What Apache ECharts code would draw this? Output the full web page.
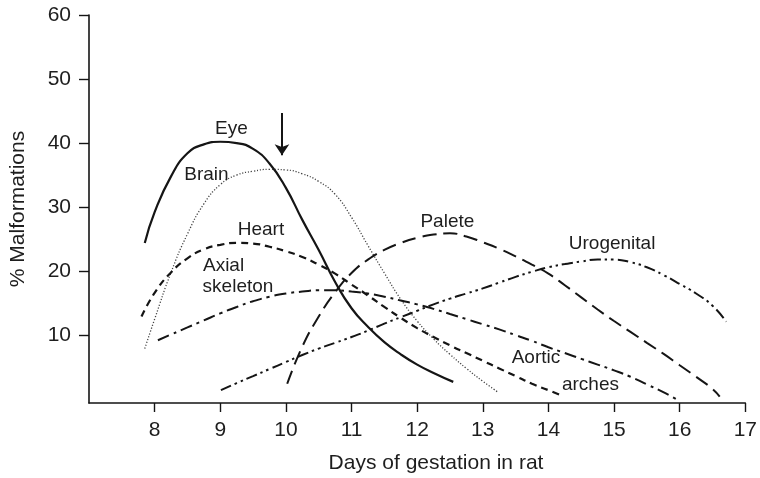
<!DOCTYPE html>
<html>
<head>
<meta charset="utf-8">
<script src="https://cdn.jsdelivr.net/npm/echarts@6/dist/echarts.min.js"></script>
<style>
  html, body { margin: 0; padding: 0; background: #fff; }
  #chart { width: 760px; height: 478px; }
</style>
</head>
<body>
<div id="chart"></div>
<script>
// Susceptibility curves: % malformations by day of gestation in the rat
const xTicks = [8, 9, 10, 11, 12, 13, 14, 15, 16, 17];
const yTicks = [10, 20, 30, 40, 50, 60];

const eye = [[7.85,24.4],[8.0,29.2],[8.25,34.8],[8.5,38.4],[8.75,39.8],[9.0,40.2],[9.25,40.0],[9.5,39.1],[9.75,36.8],[10.0,33.0],[10.25,28.0],[10.5,23.3],[10.75,18.3],[11.0,14.2],[11.25,11.3],[11.5,8.9],[11.75,7.0],[12.0,5.4],[12.25,4.1],[12.55,2.7]];
const brain = [[7.85,7.9],[8.0,12.5],[8.25,19.8],[8.5,25.8],[8.75,30.5],[9.0,33.5],[9.25,35.0],[9.5,35.6],[9.75,35.9],[10.0,35.8],[10.25,35.2],[10.5,34.0],[10.75,32.0],[11.0,28.4],[11.25,24.0],[11.5,19.7],[11.75,15.6],[12.0,12.2],[12.25,9.4],[12.5,7.0],[12.75,4.8],[13.0,2.8],[13.23,1.1]];
const heart = [[7.8,12.9],[8.0,16.6],[8.25,19.8],[8.5,22.0],[8.75,23.4],[9.0,24.1],[9.25,24.4],[9.5,24.3],[9.75,23.8],[10.0,23.1],[10.25,22.2],[10.5,21.0],[10.75,19.6],[11.0,17.9],[11.25,16.2],[11.5,14.4],[11.75,12.7],[12.0,11.1],[12.25,9.7],[12.5,8.4],[12.75,7.2],[13.0,6.0],[13.25,4.8],[13.5,3.6],[13.75,2.4],[14.0,1.4],[14.19,0.6]];
const axialSkeleton = [[8.05,9.2],[8.25,10.1],[8.5,11.2],[8.75,12.3],[9.0,13.4],[9.25,14.4],[9.5,15.3],[9.75,16.0],[10.0,16.5],[10.25,16.8],[10.5,17.0],[10.75,17.0],[11.0,16.8],[11.25,16.5],[11.5,16.0],[11.75,15.4],[12.0,14.8],[12.25,14.1],[12.5,13.3],[12.75,12.5],[13.0,11.7],[13.25,10.9],[13.5,10.0],[13.75,9.1],[14.0,8.1],[14.25,7.2],[14.5,6.3],[14.75,5.4],[15.0,4.5],[15.25,3.5],[15.5,2.3],[15.75,1.1],[15.95,0.0]];
const palete = [[10.02,2.4],[10.25,8.2],[10.5,12.9],[10.75,16.7],[11.0,19.7],[11.25,21.8],[11.5,23.3],[11.75,24.4],[12.0,25.2],[12.25,25.7],[12.5,25.9],[12.75,25.4],[13.0,24.5],[13.25,23.5],[13.5,22.3],[13.75,21.0],[14.0,19.6],[14.25,17.8],[14.5,15.9],[14.75,14.0],[15.0,12.2],[15.25,10.5],[15.5,8.8],[15.75,7.1],[16.0,5.3],[16.25,3.5],[16.5,1.6],[16.61,0.4]];
const urogenital = [[9.01,1.4],[9.25,2.5],[9.5,3.6],[9.75,4.7],[10.0,5.8],[10.25,6.9],[10.5,7.9],[10.75,8.8],[11.0,9.7],[11.25,10.7],[11.5,11.8],[11.75,12.8],[12.0,13.8],[12.25,14.8],[12.5,15.7],[12.75,16.5],[13.0,17.3],[13.25,18.2],[13.5,19.1],[13.75,19.9],[14.0,20.6],[14.25,21.1],[14.5,21.5],[14.75,21.8],[15.0,21.8],[15.25,21.4],[15.5,20.6],[15.75,19.4],[16.0,18.0],[16.25,16.5],[16.5,14.6],[16.71,12.1]];

// Curve labels placed in data space
const labelText = ['Eye', 'Brain', 'Heart', 'Axial', 'skeleton', 'Palete', 'Urogenital', 'Aortic', 'arches'];
const labelX    = [9.17, 8.79, 9.62, 9.05, 9.27, 12.46, 14.97, 13.81, 14.64];
const labelY    = [42.3, 35.0, 26.4, 20.9, 17.5, 27.7, 24.3, 6.4, 2.2];

// Arrow marking day 10
const arrowX = 9.94;
const arrowTop = 44.7;
const arrowTip = 38.1;

const FONT = '"Liberation Sans", Arial, Helvetica, sans-serif';
const INK = '#151515';
const TEXT = '#1e1e1e';

function curve(name, data, type, width, color) {
  return {
    name, type: 'line', data,
    smooth: 0.5, showSymbol: false, symbol: 'none', silent: true,
    lineStyle: { color: color || INK, width, type, cap: 'butt' },
    z: 3
  };
}

const chart = echarts.init(document.getElementById('chart'), null, { renderer: 'canvas' });

const eyeSeries = curve('Eye', eye, 'solid', 2.2);
eyeSeries.markLine = {
  silent: true,
  symbol: ['none', 'arrow'],
  symbolSize: 11,
  label: { show: false },
  lineStyle: { color: INK, width: 2, type: 'solid' },
  data: [[{ coord: [arrowX, arrowTop] }, { coord: [arrowX, arrowTip] }]]
};

chart.setOption({
  animation: false,
  backgroundColor: '#ffffff',
  grid: { left: 89, right: 11, top: 15, bottom: 75, containLabel: false },
  xAxis: {
    type: 'value', min: 7, max: 17, interval: 1,
    axisLine: { show: true, onZero: false, lineStyle: { color: INK, width: 1.6 } },
    axisTick: { show: true, length: 9, customValues: xTicks, lineStyle: { color: INK, width: 1.4 } },
    axisLabel: { customValues: xTicks, margin: 17, color: TEXT, fontSize: 21, fontFamily: FONT },
    splitLine: { show: false }
  },
  yAxis: {
    type: 'value', min: -0.6, max: 60,
    axisLine: { show: true, lineStyle: { color: INK, width: 1.6 } },
    axisTick: { show: true, length: 10, customValues: yTicks, lineStyle: { color: INK, width: 1.4 } },
    axisLabel: { customValues: yTicks, margin: 18, color: TEXT, fontSize: 21, fontFamily: FONT },
    splitLine: { show: false }
  },
  graphic: [
    {
      type: 'text', x: 18, y: 209, rotation: Math.PI / 2,
      style: { text: '% Malformations', align: 'center', verticalAlign: 'middle', fill: TEXT, font: '21px ' + FONT }
    },
    {
      type: 'text', x: 436, y: 463,
      style: { text: 'Days of gestation in rat', align: 'center', verticalAlign: 'middle', fill: TEXT, font: '21px ' + FONT }
    }
  ],
  series: [
    eyeSeries,
    curve('Brain', brain, [1.2, 1.8], 1.3, '#444'),
    curve('Heart', heart, [7, 5], 2.2),
    curve('Axial skeleton', axialSkeleton, [12, 5, 3, 5], 2),
    curve('Palete', palete, [14, 7], 2),
    curve('Urogenital', urogenital, [11, 4, 2.5, 4, 2.5, 4], 2),
    {
      name: 'labels', type: 'scatter', silent: true, symbolSize: 0, z: 5,
      itemStyle: { opacity: 1 },
      data: labelText.map((t, i) => ({ value: [labelX[i], labelY[i]], name: t })),
      label: {
        show: true, position: 'inside', formatter: p => p.name, opacity: 1,
        color: TEXT, fontSize: 19, fontFamily: FONT
      }
    }
  ]
});
</script>
</body>
</html>
